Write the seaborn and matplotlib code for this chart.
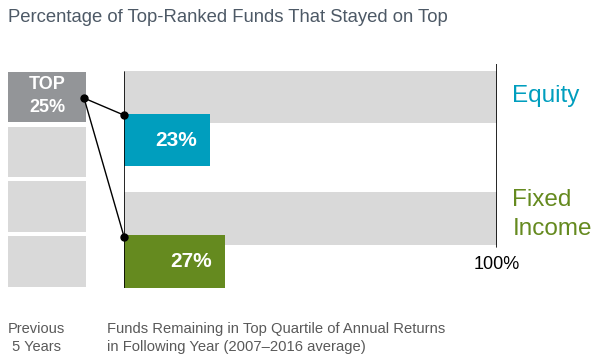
import numpy as np
import pandas as pd
import matplotlib.pyplot as plt
from matplotlib.patches import ConnectionPatch
import seaborn as sns

# data
funds = ["Equity", "Fixed Income"]
fund_labels = ["Equity", "Fixed\nIncome"]
stayed_pct = [23, 27]
full_pct = [100, 100]
fund_colors = ["#009EBE", "#658A1F"]

quartiles = ["TOP\n25%", "", "", ""]
quartile_size = [1, 1, 1, 1]

title = "Percentage of Top-Ranked Funds That Stayed on Top"
left_note = "Previous\n 5 Years"
bottom_note = "Funds Remaining in Top Quartile of Annual Returns\nin Following Year (2007\u20132016 average)"

sns.set_style("white")
plt.rcParams["font.family"] = ["Liberation Sans", "DejaVu Sans"]

fig = plt.figure(figsize=(5.98, 3.6), dpi=100)

# main bars: 0 at x=124px, 100 at x=497px
ax = fig.add_axes([124 / 598, 72 / 360, 373 / 598, 224 / 360])
bar_h = 0.43
offset = 0.354
sns.barplot(x=full_pct, y=funds, color="#D9D9D9", width=bar_h, orient="h",
            saturation=1, linewidth=0, edgecolor="none", ax=ax)
pos = np.arange(len(funds)) + offset
ax.barh(pos, stayed_pct, height=bar_h, color=fund_colors, linewidth=0,
        edgecolor="none")
ax.set_xlim(0, 100)
ax.set_ylim(1.572, -0.272)
ax.axis("off")

ax.axvline(0, ymin=0, ymax=0.964, color="black", lw=1.2)
ax.axvline(100, ymin=0.183, ymax=1, color="black", lw=1.2)

for p, v in zip(pos, stayed_pct):
    ax.annotate(f"{v}%", (v, p), xytext=(-9, 0), textcoords="offset points",
                ha="right", va="center", color="white", fontsize=15,
                fontweight="bold")

for i, (lab, c) in enumerate(zip(fund_labels, fund_colors)):
    ax.annotate(lab, (100, i), xytext=(11, 1 if i == 0 else 3),
                textcoords="offset points", ha="left", va="center",
                color=c, fontsize=17.5, linespacing=1.42)

ax.text(100, 1.375, "100%", ha="center", va="center", fontsize=13,
        color="black", clip_on=False)

# quartile boxes on the left
bx = fig.add_axes([8 / 598, 71 / 360, 78 / 598, 219.4 / 360])
q_colors = ["#939598"] + ["#D9D9D9"] * (len(quartiles) - 1)
sns.barplot(x=quartile_size, y=list(range(len(quartiles))), orient="h",
            hue=list(range(len(quartiles))), palette=q_colors, legend=False,
            width=0.92, saturation=1, linewidth=0, edgecolor="none", ax=bx)
bx.set_xlim(0, 1)
bx.set_ylim(3.5, -0.5)
bx.axis("off")
for i, q in enumerate(quartiles):
    if q:
        bx.text(0.5, i - 0.02, q, ha="center", va="center", color="white",
                fontsize=13, fontweight="bold", linespacing=1.4)

# connectors from top quartile to the remaining bars
start = (0.975, 0.02)
bx.plot([start[0]], [start[1]], "o", color="black", ms=5, clip_on=False, zorder=5)
for p in pos:
    end = (0, p - bar_h / 2 + 0.01)
    con = ConnectionPatch(xyA=start, coordsA=bx.transData,
                          xyB=end, coordsB=ax.transData,
                          color="black", lw=1)
    fig.add_artist(con)
    ax.plot([end[0]], [end[1]], "o", color="black", ms=5, clip_on=False, zorder=5)

fig.text(8 / 598, 1 - 18 / 360, title, ha="left", va="center",
         fontsize=13.3, color="#4D5966")
fig.text(8 / 598, 1 - 338 / 360, left_note, ha="left", va="center",
         fontsize=10.5, color="#595959", linespacing=1.45)
fig.text(107 / 598, 1 - 338 / 360, bottom_note, ha="left", va="center",
         fontsize=10.6, color="#595959", linespacing=1.45)

fig.savefig("out.png", dpi=100)
